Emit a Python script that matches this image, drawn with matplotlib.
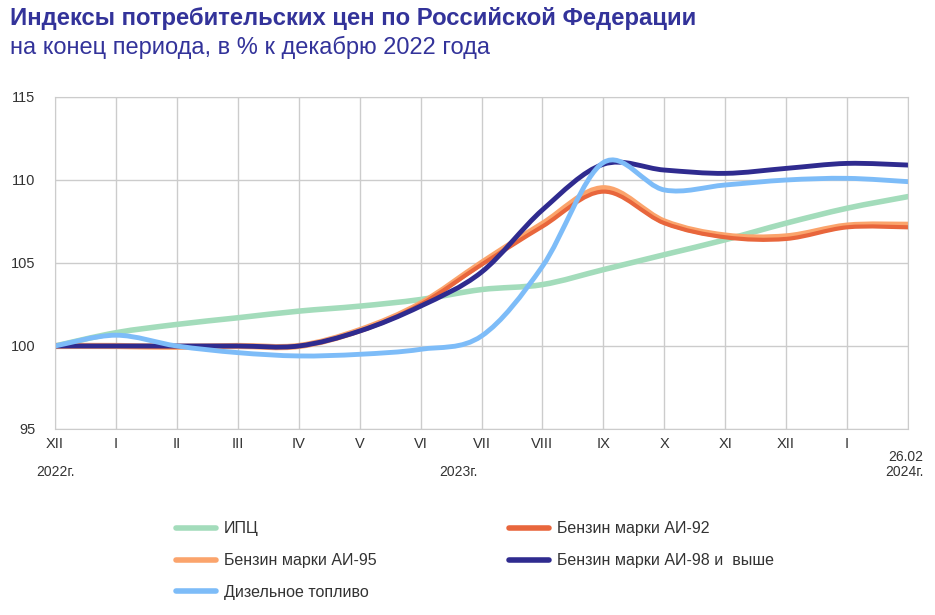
import matplotlib
matplotlib.use("Agg")
import matplotlib.pyplot as plt
from matplotlib.path import Path
from matplotlib.patches import PathPatch
from matplotlib.lines import Line2D

plt.rcParams['font.family'] = ['Liberation Sans', 'DejaVu Sans']

# данные: конец месяца, % к декабрю 2022
months = ['XII', 'I', 'II', 'III', 'IV', 'V', 'VI', 'VII', 'VIII', 'IX', 'X', 'XI', 'XII', 'I', '']
cpi = [100.0, 100.8, 101.3, 101.7, 102.1, 102.4, 102.8, 103.4, 103.7, 104.6, 105.5, 106.4, 107.4, 108.3, 109.0]
ai92 = [100.0, 100.0, 99.95, 100.0, 100.0, 100.9, 102.5, 104.9, 107.2, 109.3, 107.4, 106.55, 106.45, 107.15, 107.15]
ai95 = [100.0, 100.0, 99.95, 100.0, 100.0, 100.95, 102.55, 105.0, 107.35, 109.5, 107.5, 106.65, 106.6, 107.25, 107.3]
ai98 = [100.0, 100.0, 100.0, 100.0, 100.0, 100.9, 102.4, 104.45, 108.2, 110.95, 110.6, 110.4, 110.7, 111.0, 110.9]
diesel = [100.0, 100.65, 100.0, 99.6, 99.4, 99.5, 99.8, 100.6, 104.8, 111.05, 109.4, 109.7, 110.0, 110.1, 109.9]

labels = ['ИПЦ', 'Бензин марки АИ-92', 'Бензин марки АИ-95', 'Бензин марки АИ-98 и  выше', 'Дизельное топливо']
colors = {'cpi': '#a3dcbb', 'ai92': '#e8663c', 'ai95': '#fba46c', 'ai98': '#2f2b8f', 'diesel': '#7dbcf8'}
txt = '#333333'


def smooth_path(xs, ys):
    # сглаживание как в Excel (Catmull-Rom -> кривые Безье)
    verts = [(xs[0], ys[0])]
    codes = [Path.MOVETO]
    n = len(xs)
    for i in range(n - 1):
        x0, y0 = (xs[i - 1], ys[i - 1]) if i > 0 else (xs[i], ys[i])
        x1, y1 = xs[i], ys[i]
        x2, y2 = xs[i + 1], ys[i + 1]
        x3, y3 = (xs[i + 2], ys[i + 2]) if i + 2 < n else (x2, y2)
        verts += [(x1 + (x2 - x0) / 6, y1 + (y2 - y0) / 6),
                  (x2 - (x3 - x1) / 6, y2 - (y3 - y1) / 6),
                  (x2, y2)]
        codes += [Path.CURVE4] * 3
    return Path(verts, codes)


fig = plt.figure(figsize=(9.35, 6.15), dpi=100)
ax = fig.add_axes([55 / 935, 1 - 429 / 615, 853 / 935, 332 / 615])

x = list(range(len(months)))
series = [('cpi', cpi, 4.0), ('ai95', ai95, 4.5), ('ai92', ai92, 3.0), ('ai98', ai98, 3.5), ('diesel', diesel, 3.5)]
for key, ys, lw in series:
    ax.add_patch(PathPatch(smooth_path(x, ys), fill=False, edgecolor=colors[key], lw=lw,
                           capstyle='round', joinstyle='round'))

ax.set_xlim(0, 14)
ax.set_ylim(95, 115)
ax.set_yticks([95, 100, 105, 110, 115])
ax.set_xticks(x)
ax.set_xticklabels(months)
ax.grid(True, color='#cccccc', lw=1)
ax.set_axisbelow(True)
for s in ax.spines.values():
    s.set_color('#cccccc')
ax.tick_params(length=0, labelsize=10.5, colors=txt)
ax.tick_params(axis='y', pad=14)
ax.tick_params(axis='x', pad=6)

ax.text(-0.3, 92.4, '2022г.', fontsize=10, color=txt, ha='left', va='center')
ax.text(6.3, 92.4, '2023г.', fontsize=10, color=txt, ha='left', va='center')
ax.text(14.25, 93.3, '26.02', fontsize=10, color=txt, ha='right', va='center', clip_on=False)
ax.text(14.25, 92.4, '2024г.', fontsize=10, color=txt, ha='right', va='center', clip_on=False)

fig.text(10 / 935, 1 - 18 / 615, 'Индексы потребительских цен по Российской Федерации',
         fontsize=17.2, fontweight='bold', color='#33339a', va='center')
fig.text(10 / 935, 1 - 47 / 615, 'на конец периода, в % к декабрю 2022 года',
         fontsize=17, color='#33339a', va='center')

h = {k: Line2D([], [], color=colors[k], lw=4, solid_capstyle='round') for k in colors}
kw = dict(loc='upper left', frameon=False, fontsize=11.5, handlelength=2.5, labelspacing=1.05,
          handletextpad=0.45, labelcolor=txt, borderaxespad=0)
fig.legend([h['cpi'], h['ai95'], h['diesel']], [labels[0], labels[2], labels[4]],
           bbox_to_anchor=(170 / 935, 1 - 515 / 615), **kw)
fig.legend([h['ai92'], h['ai98']], [labels[1], labels[3]],
           bbox_to_anchor=(503 / 935, 1 - 515 / 615), **kw)

fig.savefig('out.png', dpi=100)
